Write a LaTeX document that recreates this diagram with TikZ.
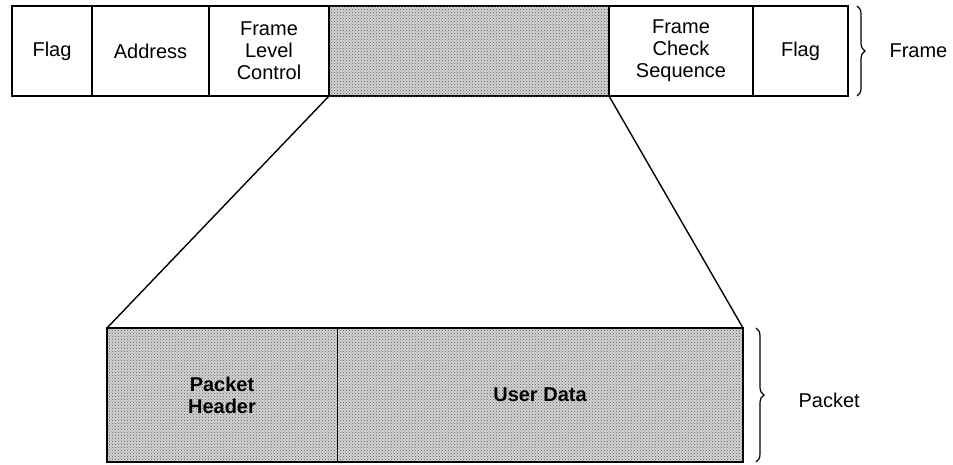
\documentclass[tikz,border=0pt]{standalone}
\usepackage{fontspec}
\setmainfont{Liberation Sans}
\usetikzlibrary{decorations.pathreplacing,patterns}
\begin{document}
\begin{tikzpicture}[x=1pt,y=-1pt,
  dots/.style={fill=black!17, postaction={pattern=crosshatch dots, pattern color=black!65}},
  field/.style={draw, line width=1.4pt, inner sep=0pt, outer sep=0pt, anchor=north west,
     minimum height=90pt, align=center, font=\fontsize{20}{22}\selectfont},
  pfield/.style={inner sep=0pt, outer sep=0pt, anchor=north west,
     minimum height=134pt, align=center, dots, font=\fontsize{20}{22}\selectfont\bfseries},
  link/.style={line width=1.4pt},
  brc/.style={decorate, decoration={brace, amplitude=8pt}, line width=1.2pt},
  lbl/.style={anchor=west, font=\fontsize{20}{22}\selectfont}]
\useasboundingbox (0,0) rectangle (953,464);
\node[field, minimum width=80pt] (flag1) at (12,6) {Flag};
\node[field, minimum width=117pt] (addr) at (92,6) {Address};
\node[field, minimum width=120pt] (flc) at (209,6) {Frame\\Level\\Control};
\node[field, dots, minimum width=280pt] (data) at (329,6) {};
\node[field, minimum width=144pt] (fcs) at (609,6) {Frame\\Check\\Sequence};
\node[field, minimum width=95pt] (flag2) at (753,6) {Flag};
\node[pfield, minimum width=230pt] (ph) at (107,328) {Packet\\Header};
\node[pfield, minimum width=406pt] (ud) at (337,328) {User Data};
\draw[line width=0.7pt] (ud.north west) -- (ud.south west);
\draw[line width=1.4pt] (ph.north west) rectangle (ud.south east);
\draw[link] (data.south west) -- (ph.north west);
\draw[link] (data.south east) -- (ud.north east);
\coordinate (fb1) at (857,6);
\coordinate (fb2) at (857,96);
\draw[brc] (fb1) -- (fb2);
\node[lbl] (frame) at (886,51) {Frame};
\coordinate (pb1) at (756,328);
\coordinate (pb2) at (756,462);
\draw[brc] (pb1) -- (pb2);
\node[lbl] (packet) at (795,400) {Packet};
\end{tikzpicture}
\end{document}
